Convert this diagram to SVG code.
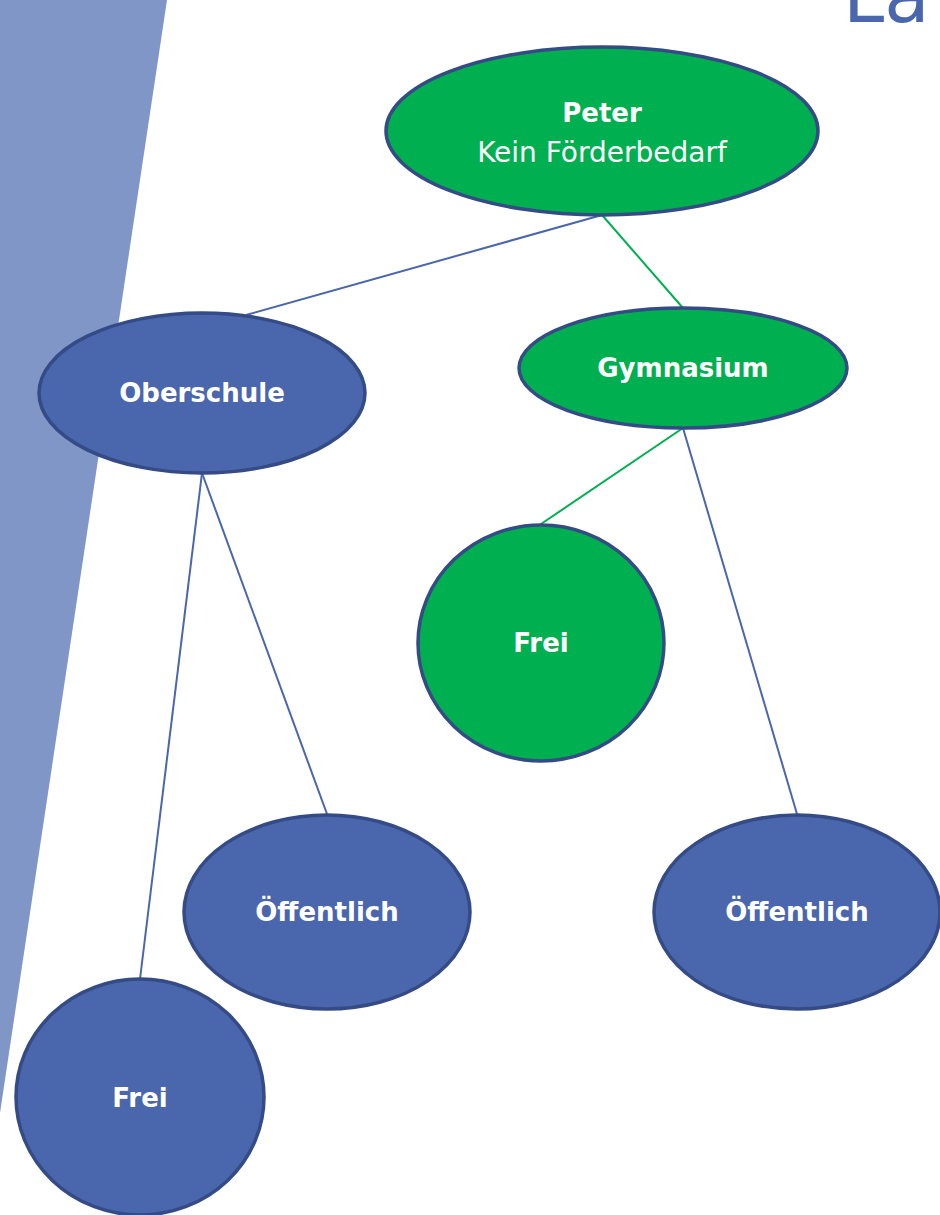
<svg xmlns="http://www.w3.org/2000/svg" width="940" height="1215" viewBox="0 0 940 1215">
<style>
.g{fill:#00b050;stroke:#344b85;stroke-width:3.5}
.b{fill:#4a66ac;stroke:#344b85;stroke-width:3.5}
.t{font-family:"DejaVu Sans",sans-serif;font-size:28px;fill:#ffffff;text-anchor:middle}
.bd{font-weight:bold;font-size:26px}
.cb{stroke:#4a66ac;stroke-width:2;fill:none}
.cg{stroke:#00b050;stroke-width:2;fill:none}
</style>
<rect width="940" height="1215" fill="#ffffff"/>
<polygon points="0,0 167,0 0,1113" fill="#8096c6"/>
<text x="843" y="22" font-family="DejaVu Sans,sans-serif" font-size="74" fill="#4a66ac">La</text>
<g id="connectors">
<line class="cb" x1="602" y1="215" x2="246" y2="315"/>
<line class="cg" x1="602" y1="215" x2="683" y2="308"/>
<line class="cg" x1="683" y1="428" x2="541" y2="524"/>
<line class="cb" x1="683" y1="428" x2="797" y2="814"/>
<line class="cb" x1="202" y1="473" x2="327" y2="814"/>
<line class="cb" x1="202" y1="473" x2="140" y2="979"/>
</g>
<g id="peter">
<ellipse class="g" cx="602" cy="131" rx="216" ry="84"/>
<text class="t bd" x="602" y="122">Peter</text>
<text class="t" x="602" y="162">Kein Förderbedarf</text>
</g>
<g id="gymnasium">
<ellipse class="g" cx="683" cy="368" rx="164" ry="60"/>
<text class="t bd" x="683" y="377">Gymnasium</text>
</g>
<g id="oberschule">
<ellipse class="b" cx="202" cy="393" rx="163" ry="80"/>
<text class="t bd" x="202" y="402">Oberschule</text>
</g>
<g id="frei-gym">
<ellipse class="g" cx="541" cy="643" rx="123" ry="118"/>
<text class="t bd" x="541" y="652">Frei</text>
</g>
<g id="oeffentlich-ober">
<ellipse class="b" cx="327" cy="912" rx="143" ry="97"/>
<text class="t bd" x="327" y="921">Öffentlich</text>
</g>
<g id="oeffentlich-gym">
<ellipse class="b" cx="797" cy="912" rx="143" ry="97"/>
<text class="t bd" x="797" y="921">Öffentlich</text>
</g>
<g id="frei-ober">
<ellipse class="b" cx="140" cy="1097" rx="124" ry="118"/>
<text class="t bd" x="140" y="1107">Frei</text>
</g>
</svg>
